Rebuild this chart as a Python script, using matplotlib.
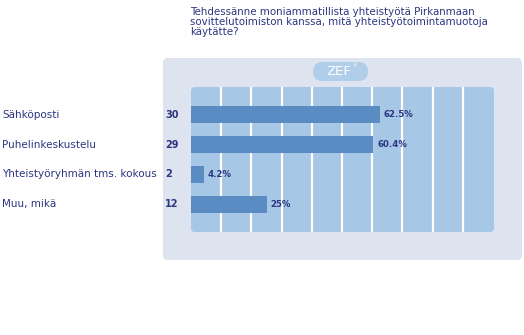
import matplotlib.pyplot as plt
from matplotlib.patches import FancyBboxPatch

# data
title = ('Tehdessänne moniammatillista yhteistyötä Pirkanmaan\n'
         'sovittelutoimiston kanssa, mitä yhteistyötoimintamuotoja\n'
         'käytätte?')
categories = ['Sähköposti', 'Puhelinkeskustelu',
              'Yhteistyöryhmän tms. kokous', 'Muu, mikä']
counts = [30, 29, 2, 12]
n_total = 48
percents = [c / n_total * 100 for c in counts]

navy = '#2b3580'
outer_c = '#dde3ef'
inner_c = '#a6c7e6'
bar_c = '#5a8bc2'
plt.rcParams['font.family'] = ['DejaVu Sans']

fig = plt.figure(figsize=(5.24, 3.35), dpi=100)
fig.patch.set_facecolor('white')

# background in pixel coordinates
bg = fig.add_axes([0, 0, 1, 1])
bg.set_xlim(0, 524)
bg.set_ylim(335, 0)
bg.axis('off')
bg.add_patch(FancyBboxPatch((163, 58), 359, 202, boxstyle='round,pad=0,rounding_size=5',
                            fc=outer_c, ec='none'))
bg.add_patch(FancyBboxPatch((191, 87), 303, 145, boxstyle='round,pad=0,rounding_size=4',
                            fc=inner_c, ec='none'))
# ZEF logo
bg.add_patch(FancyBboxPatch((313, 62), 55, 19, boxstyle='round,pad=0,rounding_size=9.5',
                            fc='#b0cdea', ec='none'))
bg.text(339, 71.5, 'ZEF', color='white', fontsize=9.5, ha='center', va='center')
bg.text(355, 66, '®', color='white', fontsize=3.5, ha='center', va='center')
bg.text(190, 7, title, color=navy, fontsize=7.4, ha='left', va='top', linespacing=1.0)

# chart
ax = fig.add_axes([191 / 524, 1 - 232 / 335, 302 / 524, 145 / 335])
ax.set_facecolor('none')
ax.set_xlim(0, 100)
ax.set_ylim(3.92, -0.92)
for g in range(10, 100, 10):
    ax.axvline(g, color='white', lw=1.6, zorder=1)
y = list(range(len(categories)))
ax.barh(y, percents, height=0.58, color=bar_c, zorder=2)
for i, (cat, c, p) in enumerate(zip(categories, counts, percents)):
    lbl = f'{p:.1f}'.rstrip('0').rstrip('.') + '%'
    ax.text(p + 1.2, i, lbl, color=navy, fontsize=6.2, fontweight='bold',
            ha='left', va='center', zorder=3)
    ax.text(-8.6, i, str(c), color=navy, fontsize=7, fontweight='bold',
            ha='left', va='center')
    ax.text(-62.6, i, cat, color=navy, fontsize=7.5, ha='left', va='center')
ax.axis('off')

fig.savefig('out.png', dpi=100)
